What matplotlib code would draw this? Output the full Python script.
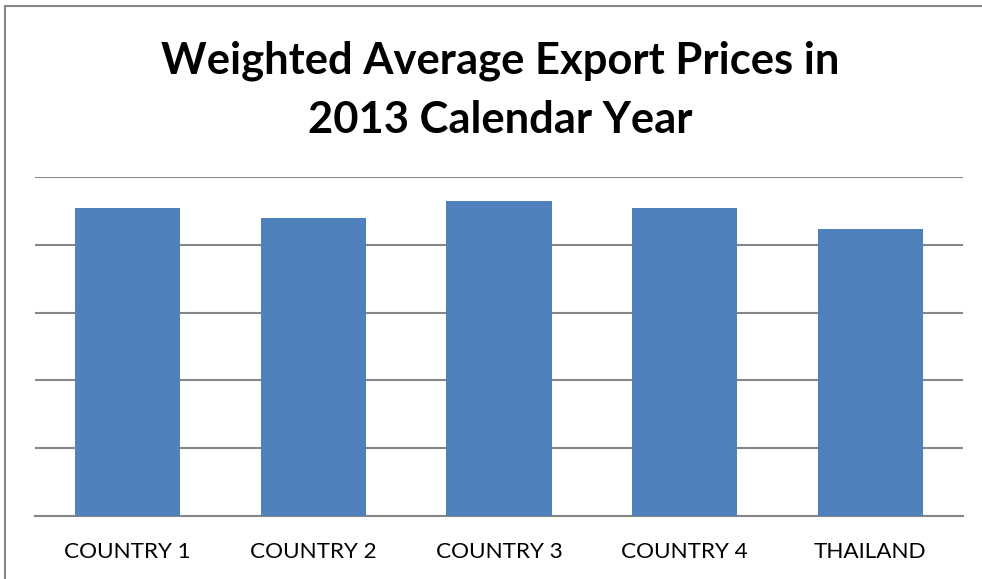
import matplotlib
matplotlib.use("Agg")
import matplotlib.pyplot as plt
from matplotlib.patches import Rectangle

categories = ["COUNTRY 1", "COUNTRY 2", "COUNTRY 3", "COUNTRY 4", "THAILAND"]
values = [4.54, 4.40, 4.65, 4.54, 4.23]
title = "Weighted Average Export Prices in\n2013 Calendar Year"

W, H = 982, 579
fig = plt.figure(figsize=(W / 100, H / 100), dpi=100)
fig.patch.set_facecolor("white")

# outer border
fig.add_artist(Rectangle((4.5 / W, -0.01), (W - 4.5) / W + 0.01, 1 - 6 / H + 0.01,
                         transform=fig.transFigure, fill=False,
                         edgecolor="#868686", linewidth=1.5))

ax = fig.add_axes([35 / W, 1 - 516 / H, (963 - 35) / W, (516 - 177) / H])
x = range(len(categories))
ax.bar(x, values, width=0.566, color="#4F81BD", zorder=3)
ax.set_xlim(-0.5, len(categories) - 0.5)
ax.set_ylim(0, 5)
ax.set_yticks([0, 1, 2, 3, 4, 5])
ax.set_yticklabels([])
ax.tick_params(axis="y", length=0)
ax.grid(axis="y", color="#868686", linewidth=1.5, zorder=0)
for s in ["top", "right", "left"]:
    ax.spines[s].set_visible(False)
ax.spines["bottom"].set_color("#868686")
ax.spines["bottom"].set_linewidth(1.5)
ax.set_xticks(list(x))
ax.set_xticklabels(categories, fontsize=16.2, family=["Lato", "DejaVu Sans"])
ax.tick_params(axis="x", length=0, pad=19)

fig.text(0.509, 1 - 90 / H, title, ha="center", va="center", fontsize=31.3,
         fontweight="bold", family=["Lato", "DejaVu Sans"], linespacing=1.58)

fig.savefig("out.png", dpi=100)
